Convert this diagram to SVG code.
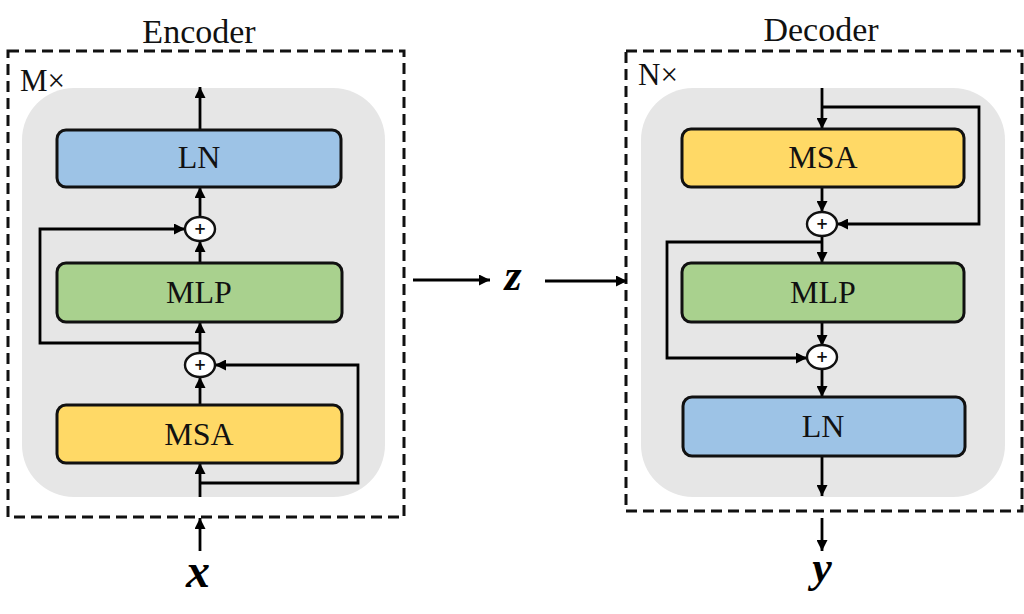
<svg xmlns="http://www.w3.org/2000/svg" width="1024" height="614" viewBox="0 0 1024 614">
<defs>
<marker id="ah" viewBox="0 0 10 10" markerWidth="12" markerHeight="11" markerUnits="userSpaceOnUse" refX="10" refY="5" orient="auto">
<path d="M0,0 L10,5 L0,10 z" fill="#000"/>
</marker>
</defs>
<style>
.dash{fill:none;stroke:#111;stroke-width:3;stroke-dasharray:11 6}
.bg{fill:#e6e6e6}
.box{stroke:#111;stroke-width:3}
.ln{fill:#9dc3e6}
.mlp{fill:#a9d18e}
.msa{fill:#ffd966}
.lbl{font-family:"Liberation Serif",serif;font-size:32px;fill:#111;text-anchor:middle}
.title{font-family:"Liberation Serif",serif;font-size:34px;fill:#111;text-anchor:middle}
.rep{font-family:"Liberation Serif",serif;font-size:31px;fill:#111}
.math{font-family:"Liberation Serif",serif;font-style:italic;font-weight:bold;fill:#000;text-anchor:middle}
.add{fill:#fff;stroke:#111;stroke-width:2.4}
.plus{font-family:"DejaVu Sans",sans-serif;font-weight:bold;font-size:15px;fill:#111;text-anchor:middle}
.c{fill:none;stroke:#000;stroke-width:2.8;marker-end:url(#ah)}
</style>

<g id="encoder">
<rect class="dash" x="8" y="51" width="396" height="466"/>
<text class="title" x="199" y="43">Encoder</text>
<text class="rep" x="20" y="91">M×</text>
<rect class="bg" x="22" y="88" width="363" height="409" rx="52"/>
</g>
<g id="decoder">
<rect class="dash" x="626" y="51" width="396" height="460"/>
<text class="title" x="821" y="41">Decoder</text>
<text class="rep" x="638" y="85">N×</text>
<rect class="bg" x="641" y="88" width="364" height="409" rx="52"/>
</g>

<g id="connectors">
<path class="c" d="M200,130 L200,87"/>
<path class="c" d="M200,217 L200,187"/>
<path class="c" d="M200,263 L200,241"/>
<path class="c" d="M200,343 L40,343 L40,229 L185,229"/>
<path class="c" d="M200,353 L200,322"/>
<path class="c" d="M200,497 L200,463"/>
<path class="c" d="M200,405 L200,377"/>
<path class="c" d="M200,483 L358,483 L358,365 L215,365"/>
<path class="c" d="M200,551 L200,518"/>
<path class="c" d="M413,280 L490,280"/>
<path class="c" d="M545,281 L627,281"/>
<path class="c" d="M822,88 L822,129"/>
<path class="c" d="M822,107 L979,107 L979,224 L837,224"/>
<path class="c" d="M822,187 L822,212"/>
<path class="c" d="M822,236 L822,263"/>
<path class="c" d="M822,242 L667,242 L667,358 L807,358"/>
<path class="c" d="M822,322 L822,346"/>
<path class="c" d="M822,370 L822,397"/>
<path class="c" d="M822,456 L822,496"/>
<path class="c" d="M822,518 L822,551"/>
</g>

<g id="enc-ln"><rect class="box ln" x="57" y="130" width="284" height="57" rx="9"/><text class="lbl" x="199" y="168">LN</text></g>
<g id="enc-add1"><ellipse class="add" cx="200" cy="229" rx="15" ry="12"/><text class="plus" x="200" y="234">+</text></g>
<g id="enc-mlp"><rect class="box mlp" x="57" y="263" width="285" height="59" rx="9"/><text class="lbl" x="199" y="303">MLP</text></g>
<g id="enc-add2"><ellipse class="add" cx="200" cy="365" rx="15" ry="12"/><text class="plus" x="200" y="370">+</text></g>
<g id="enc-msa"><rect class="box msa" x="57" y="405" width="285" height="58" rx="9"/><text class="lbl" x="199" y="445">MSA</text></g>
<g id="x"><text class="math" x="198" y="587" font-size="48">x</text></g>

<g id="z"><text class="math" x="513" y="290" font-size="44">z</text></g>

<g id="dec-msa"><rect class="box msa" x="682" y="129" width="282" height="58" rx="9"/><text class="lbl" x="823" y="168">MSA</text></g>
<g id="dec-add1"><ellipse class="add" cx="822" cy="224" rx="15" ry="12"/><text class="plus" x="822" y="229">+</text></g>
<g id="dec-mlp"><rect class="box mlp" x="682" y="263" width="282" height="59" rx="9"/><text class="lbl" x="823" y="303">MLP</text></g>
<g id="dec-add2"><ellipse class="add" cx="822" cy="357" rx="15" ry="12"/><text class="plus" x="822" y="362">+</text></g>
<g id="dec-ln"><rect class="box ln" x="683" y="397" width="282" height="59" rx="9"/><text class="lbl" x="823" y="437">LN</text></g>
<g id="y"><text class="math" x="822" y="582" font-size="44">y</text></g>
</svg>
